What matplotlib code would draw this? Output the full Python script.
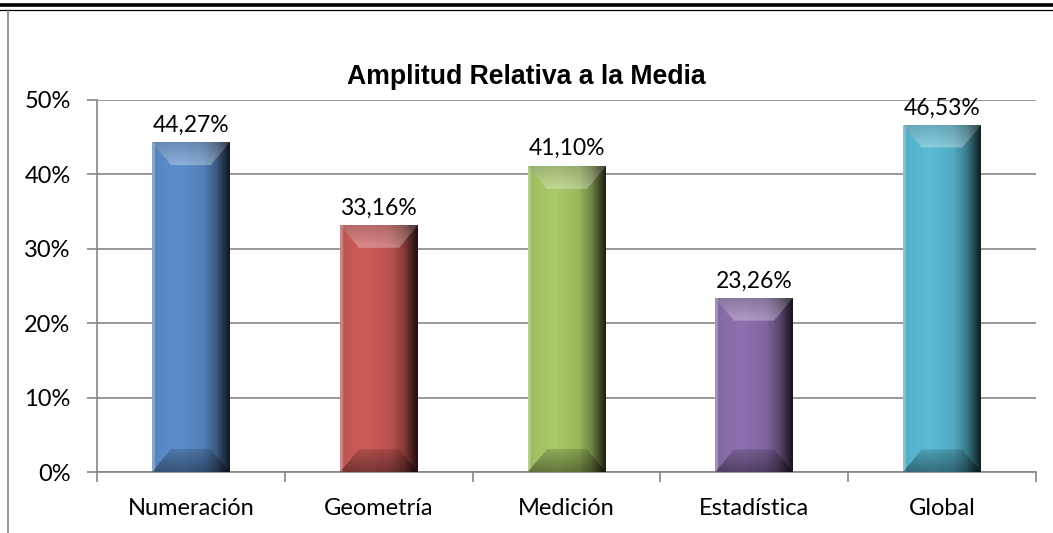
import numpy as np
import matplotlib.pyplot as plt
from matplotlib.lines import Line2D
from matplotlib.ticker import FuncFormatter, FixedLocator

# Data
categories = ['Numeración', 'Geometría', 'Medición', 'Estadística', 'Global']
values = [44.27, 33.16, 41.10, 23.26, 46.53]
bar_colors = ['#4F81BD', '#C0504D', '#9BBB59', '#8064A2', '#4BACC6']
title = 'Amplitud Relativa a la Media'

plt.rcParams['font.family'] = ['Lato', 'DejaVu Sans']

fig = plt.figure(figsize=(10.53, 5.33), dpi=100)
ax = fig.add_axes([0.0921, 0.1144, 0.8918, 0.698])

x = np.arange(len(categories))
width = 0.415
bars = ax.bar(x, values, width=width, color='none', zorder=3)


def hex_rgb(h):
    h = h.lstrip('#')
    return np.array([int(h[i:i + 2], 16) for i in (0, 2, 4)]) / 255.0


# horizontal shading profile of the bevelled bar
prof_u = [0.0, 0.04, 0.08, 0.35, 0.65, 0.82, 0.93, 1.0]
prof_k = [1.2, 1.0, 1.05, 1.1, 1.0, 0.72, 0.38, 0.18]


def bar_image(color, height, nx=120, ny=400):
    base = hex_rgb(color)
    base = base * 0.92 + 0.08 * base.mean()
    u = np.linspace(0, 1, nx)
    v = np.linspace(1, 0, ny)  # image row 0 = top
    U, V = np.meshgrid(u, v)
    k = np.interp(U, prof_u, prof_k)
    img = np.clip(base[None, None, :] * k[..., None], 0, 1)
    # edge strip on the left is lighter and greyer
    left = U < 0.04
    img[left] = img[left] * 0.6 + 0.3
    ix = 0.24
    iy = 3.0 / height
    dl = U / ix
    dr = (1 - U) / ix
    dt = (1 - V) / iy
    db = V / iy
    top = (dt < 1) & (dt <= dl) & (dt <= dr)
    bot = (db < 1) & (db <= dl) & (db <= dr)
    light = img * 0.7 + 0.3 * (0.55 + 0.45 * dt[..., None])
    img = np.where(top[..., None], np.clip(light, 0, 1), img)
    dark = img * (0.6 + 0.25 * db[..., None])
    img = np.where(bot[..., None], dark, img)
    return img


for b, c in zip(bars, bar_colors):
    x0 = b.get_x()
    h = b.get_height()
    ax.imshow(bar_image(c, h), extent=(x0, x0 + b.get_width(), 0, h),
              aspect='auto', zorder=3, interpolation='bilinear')

for xi, v in zip(x, values):
    ax.annotate(f'{v:.2f}%'.replace('.', ','), (xi, v), xytext=(0, 5),
                textcoords='offset points', ha='center', va='bottom',
                fontsize=16.5, color='#000000', zorder=4)

ax.set_xlim(-0.5, len(categories) - 0.5)
ax.set_ylim(0, 50)
ax.set_yticks(np.arange(0, 51, 10))
ax.yaxis.set_major_formatter(FuncFormatter(lambda v, p: f'{v:.0f}%'))
ax.set_xticks(x)
ax.set_xticklabels(categories)
ax.tick_params(axis='x', which='major', length=0, pad=19, labelsize=17)
ax.xaxis.set_minor_locator(FixedLocator(np.arange(-0.5, len(categories), 1)))
ax.tick_params(axis='x', which='minor', length=7, width=1.2, color='#868686',
               direction='out')
ax.tick_params(axis='y', length=7, width=1.2, color='#868686', pad=12,
               labelsize=17)
ax.grid(axis='y', color='#868686', linewidth=1.2, zorder=0)
ax.set_axisbelow(True)
for s in ['top', 'right']:
    ax.spines[s].set_visible(False)
for s in ['left', 'bottom']:
    ax.spines[s].set_color('#868686')
    ax.spines[s].set_linewidth(1.2)

fig.text(0.5, 0.855, title, ha='center', va='center', fontsize=19.2,
         fontweight='bold', family=['Liberation Sans', 'DejaVu Sans'])

# frame lines around the chart
fig.add_artist(Line2D([0, 1], [1 - 4.5 / 533] * 2, color='black', lw=2.6))
fig.add_artist(Line2D([0, 1], [1 - 9.5 / 533] * 2, color='black', lw=0.9))
fig.add_artist(Line2D([8 / 1053] * 2, [0, 1 - 9.5 / 533], color='#868686',
                      lw=1.2))

fig.savefig('out.png', dpi=100)
